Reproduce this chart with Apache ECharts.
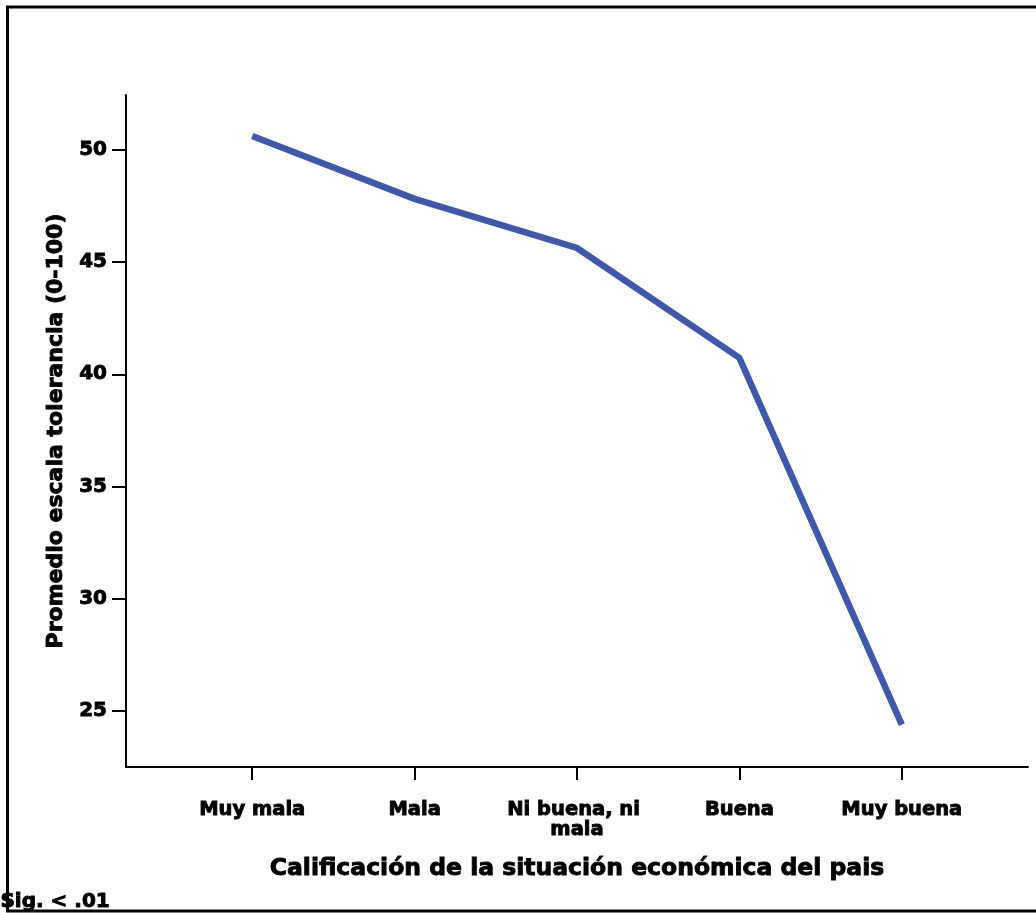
<!DOCTYPE html>
<html>
<head>
<meta charset="utf-8">
<script src="https://cdn.jsdelivr.net/npm/echarts@6/dist/echarts.min.js"></script>
<style>
html,body{margin:0;padding:0;background:#fff;}
#chart{width:1036px;height:913px;}
</style>
</head>
<body>
<div id="chart"></div>
<script>
var categories = ['Muy mala', 'Mala', 'Ni buena, ni mala', 'Buena', 'Muy buena'];
var values = [50.62, 47.82, 45.63, 40.73, 24.38];
var yTicks = [25, 30, 35, 40, 45, 50];
var xTitle = 'Calificación de la situación económica del pais';
var yTitle = 'Promedio escala tolerancia (0-100)';
var note = 'Sig. < .01';

var font = '"DejaVu Sans", sans-serif';
var heavy = { fontWeight: 'bold', fontFamily: font, color: '#000', textBorderColor: '#000', textBorderWidth: 0.9 };
function ts(extra) { return Object.assign({}, heavy, extra); }
var chart = echarts.init(document.getElementById('chart'));
var idx = categories.map(function (c, i) { return i; });
chart.setOption({
  animation: false,
  backgroundColor: '#fff',
  grid: { left: 126, right: 8, top: 95, bottom: 146, containLabel: false },
  graphic: [
    { type: 'rect', shape: { x: 7.5, y: 7, width: 1040, height: 904 },
      style: { fill: 'none', stroke: '#000', lineWidth: 3 }, z: 100, silent: true },
    { type: 'text', left: 0, top: 891,
      style: { text: note, font: 'bold 20px ' + font, fill: '#000', stroke: '#000', lineWidth: 0.9 }, z: 101 }
  ],
  xAxis: {
    type: 'value',
    min: -0.777, max: 4.777,
    name: xTitle,
    nameLocation: 'middle',
    nameGap: 90,
    nameTextStyle: ts({ fontSize: 23.5 }),
    axisLine: { show: true, onZero: false, lineStyle: { color: '#000', width: 2 } },
    axisTick: { show: true, customValues: idx, length: 13, lineStyle: { color: '#000', width: 2 } },
    axisLabel: Object.assign(ts({ fontSize: 19.5 }), {
      customValues: idx,
      formatter: function (v) { return categories[Math.round(v)]; },
      margin: 33, width: 160, overflow: 'break', lineHeight: 20, align: 'center'
    }),
    splitLine: { show: false }
  },
  yAxis: {
    type: 'value',
    min: 22.49, max: 52.45,
    name: yTitle,
    nameLocation: 'middle',
    nameGap: 58,
    nameTextStyle: ts({ fontSize: 22 }),
    axisLine: { show: true, onZero: false, lineStyle: { color: '#000', width: 2 } },
    axisTick: { show: true, customValues: yTicks, length: 14, lineStyle: { color: '#000', width: 2 } },
    axisLabel: Object.assign(ts({ fontSize: 20 }), {
      customValues: yTicks, margin: 19
    }),
    splitLine: { show: false }
  },
  series: [{
    type: 'line',
    data: values.map(function (v, i) { return [i, v]; }),
    symbol: 'none',
    lineStyle: { color: '#3f58a9', width: 6.5, cap: 'butt', join: 'miter' },
    silent: true
  }]
});
</script>
</body>
</html>
